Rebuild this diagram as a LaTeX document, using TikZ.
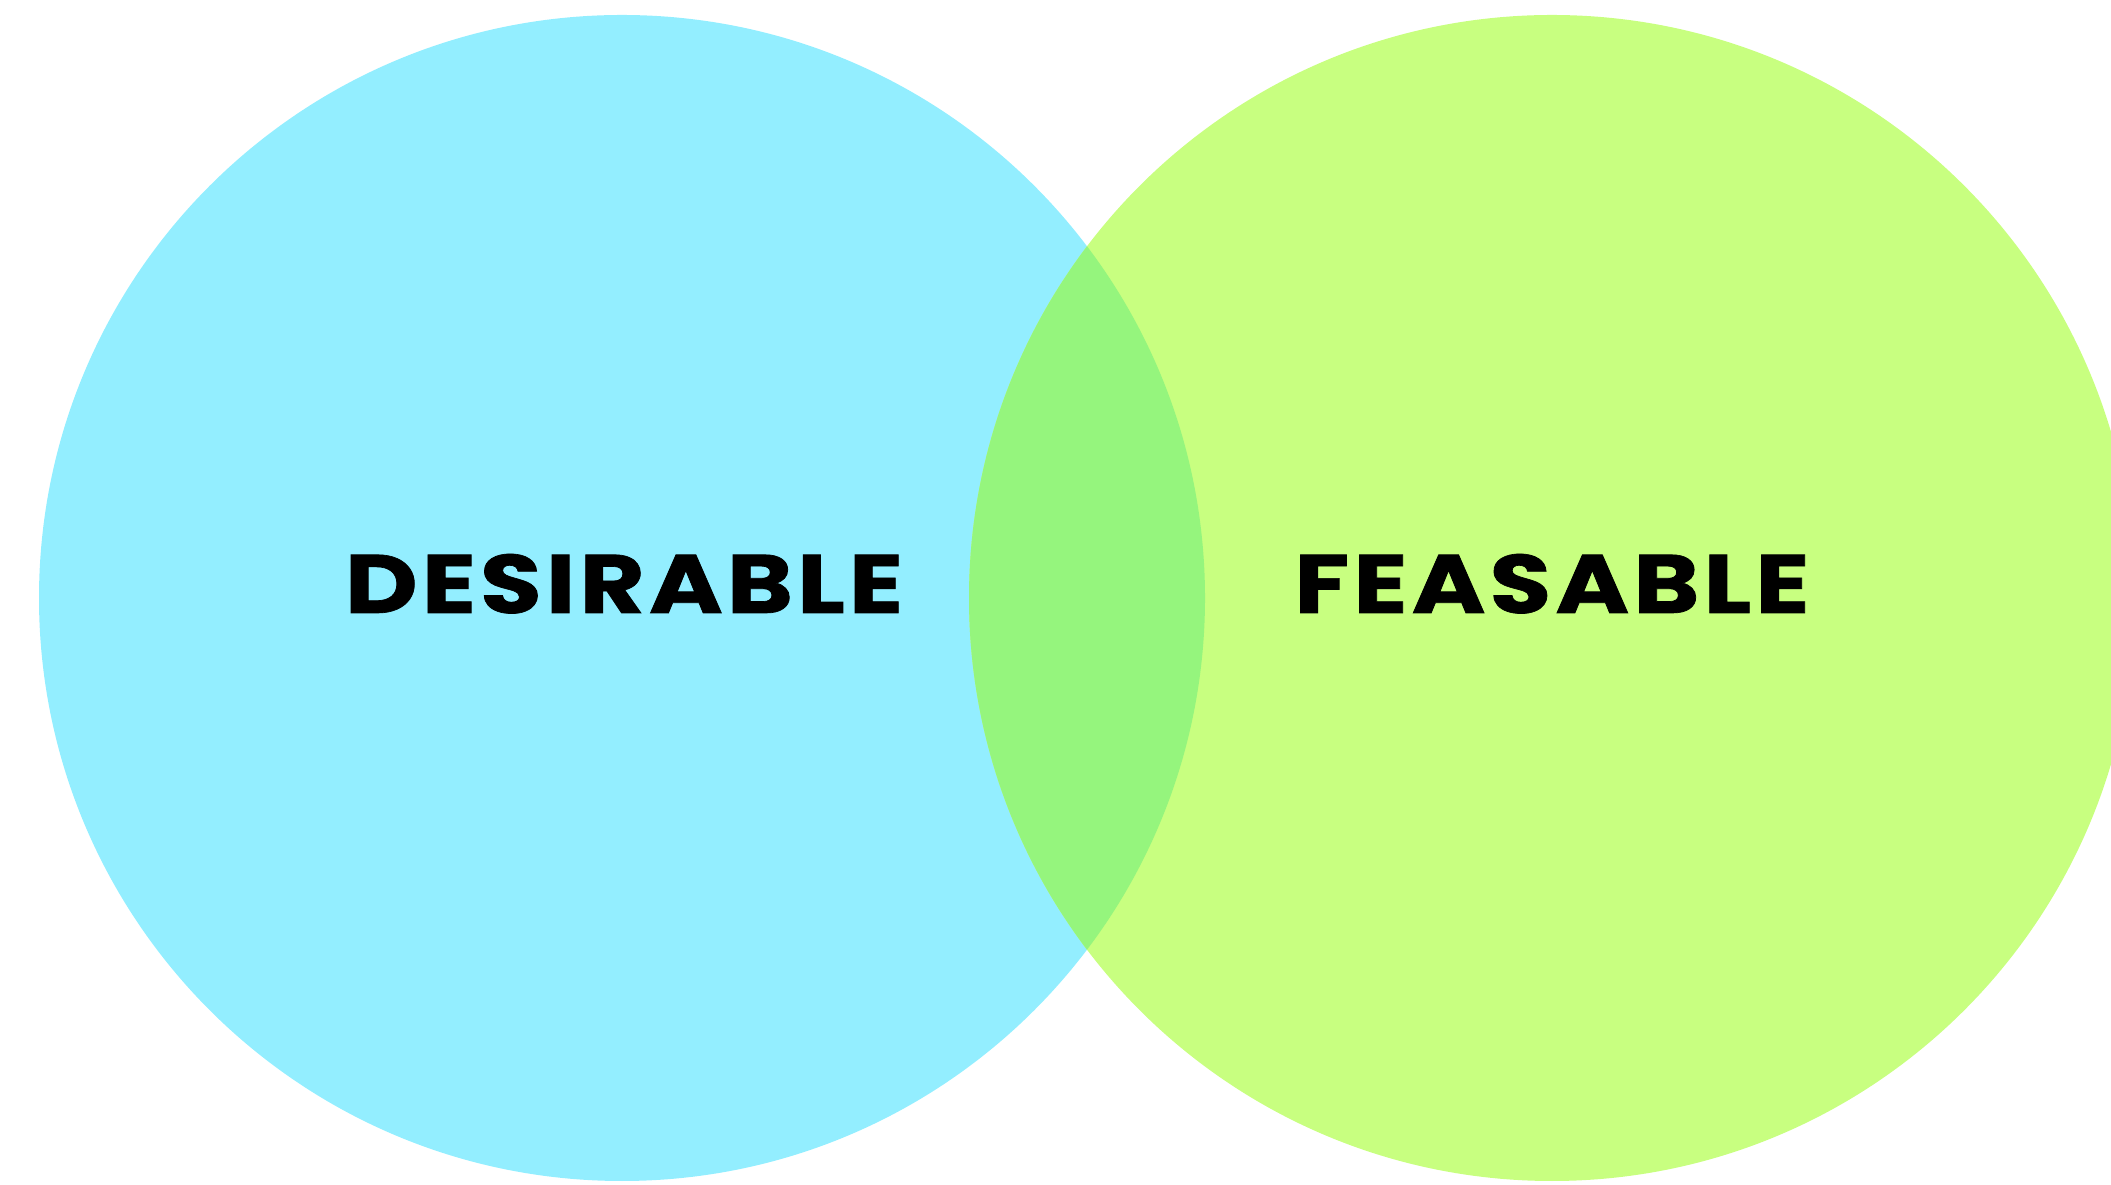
\documentclass[tikz,border=0pt]{standalone}
\usepackage{fontspec}
\newfontfamily\labelfont{Poppins}[LetterSpace=4, FakeBold=0.8]
\usetikzlibrary{shapes, positioning}

\definecolor{wantcyan}{HTML}{93EEFF}
\definecolor{canlime}{HTML}{C8FF80}
\definecolor{bothgreen}{HTML}{95F57D}

\begin{document}
\begin{tikzpicture}[set/.style={circle, minimum size=11.66cm, inner sep=0pt}, setlabel/.style={anchor=base, xscale=1.21, transform shape, font=\labelfont\bfseries\fontsize{23.6}{28}\selectfont}]
\useasboundingbox (0,0) rectangle (21.11,11.84);
\clip (0,0) rectangle (21.11,11.84);
  \node[set, fill=wantcyan] (D) at (6.22,5.86) {};
  \node[set, fill=canlime] (F) at (15.52,5.86) {};
  \begin{scope}
    \clip (D.center) circle (5.83);
    \fill[bothgreen] (F.center) circle (5.83);
  \end{scope}
\node[setlabel] (Dlabel) at (6.24,5.71) {DESIRABLE};
\node[setlabel] (Flabel) at (15.52,5.71) {FEASABLE};
\end{tikzpicture}
\end{document}
